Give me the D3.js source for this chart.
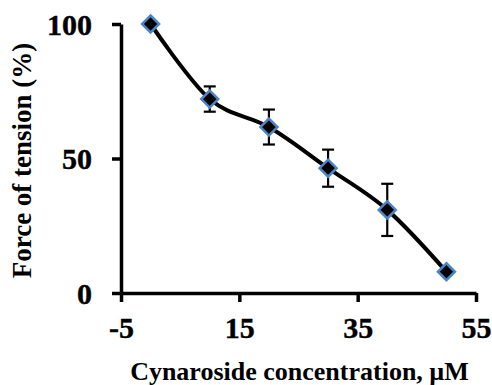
<!DOCTYPE html>
<html>
<head>
<meta charset="utf-8">
<script src="https://cdn.jsdelivr.net/npm/d3@7"></script>
<style>
  html, body { margin: 0; padding: 0; background: #fff; }
  svg { display: block; }
  svg text { font-family: "Liberation Serif", "Times New Roman", serif !important; font-weight: bold !important; fill: #000; }
</style>
</head>
<body>
<svg id="chart" width="492" height="385"></svg>
<script>
// Cynaroside concentration (µM) vs. force of tension (%), mean ± error
const concentrations = [0, 10, 20, 30, 40, 50];
const tension = [100, 72.1, 61.7, 46.4, 30.9, 7.9];
const tensionError = [1, 4.7, 6.5, 6.9, 9.7, 1];
const xTicks = [-5, 15, 35, 55];
const yTicks = [0, 50, 100];
const xTitle = "Cynaroside concentration, \u00B5M";
const yTitle = "Force of tension (%)";

const svg = d3.select("#chart");
const plotLeft = 121, plotRight = 476, plotTop = 24, plotBottom = 293;

const x = d3.scaleLinear().domain([-5, 55]).range([plotLeft, plotRight]);
const y = d3.scaleLinear().domain([0, 100]).range([plotBottom, plotTop]);

// Axes (plain hyphen for negative tick labels)
const fmt = d => String(d);
const xAxis = svg.append("g").attr("transform", `translate(0,${plotBottom})`)
  .call(d3.axisBottom(x).tickValues(xTicks).tickFormat(fmt).tickSize(9).tickSizeOuter(0).tickPadding(15));
const yAxis = svg.append("g").attr("transform", `translate(${plotLeft},0)`)
  .call(d3.axisLeft(y).tickValues(yTicks).tickFormat(fmt).tickSize(9).tickSizeOuter(0).tickPadding(20));

[xAxis, yAxis].forEach(g => {
  g.attr("font-family", null).attr("font-size", null);
  g.select(".domain").attr("stroke", "#000").attr("stroke-width", 3.5);
  g.selectAll(".tick line").attr("stroke", "#000").attr("stroke-width", 3.5);
  g.selectAll(".tick text").style("font-size", "30px").attr("fill", "#000")
    .attr("stroke", "#000").attr("stroke-width", 0.4);
});
xAxis.selectAll(".tick text").attr("dy", "0.71em");
yAxis.selectAll(".tick text").attr("dy", "0.34em");

// Axis titles
svg.append("text")
  .attr("x", (plotLeft + plotRight) / 2 + 1)
  .attr("y", 380)
  .attr("text-anchor", "middle")
  .style("font-size", "26px")
  .text(xTitle);

svg.append("text")
  .attr("transform", `translate(31,${(43 + 278) / 2}) rotate(-90)`)
  .attr("text-anchor", "middle")
  .style("font-size", "27px")
  .text(yTitle);

const data = concentrations.map((c, i) => ({ c, v: tension[i], e: tensionError[i] }));

// Smoothed curve
svg.append("path")
  .datum(data)
  .attr("fill", "none")
  .attr("stroke", "#000")
  .attr("stroke-width", 4)
  .attr("d", d3.line().x(d => x(d.c)).y(d => y(d.v)).curve(d3.curveCardinal.tension(0)));

// Error bars
const eb = svg.append("g").attr("stroke", "#000").attr("stroke-width", 2.2);
data.forEach(d => {
  const cx = x(d.c);
  eb.append("line").attr("x1", cx).attr("x2", cx).attr("y1", y(d.v + d.e)).attr("y2", y(d.v - d.e));
  [d.v + d.e, d.v - d.e].forEach(v => {
    eb.append("line").attr("x1", cx - 6).attr("x2", cx + 6).attr("y1", y(v)).attr("y2", y(v));
  });
});

// Diamond markers
svg.append("g").selectAll("path")
  .data(data)
  .join("path")
  .attr("transform", d => `translate(${x(d.c)},${y(d.v)})`)
  .attr("d", "M0,-8.5L8.5,0L0,8.5L-8.5,0Z")
  .attr("fill", "#000")
  .attr("stroke", "#4a86c8")
  .attr("stroke-width", 2.5);
</script>
</body>
</html>
